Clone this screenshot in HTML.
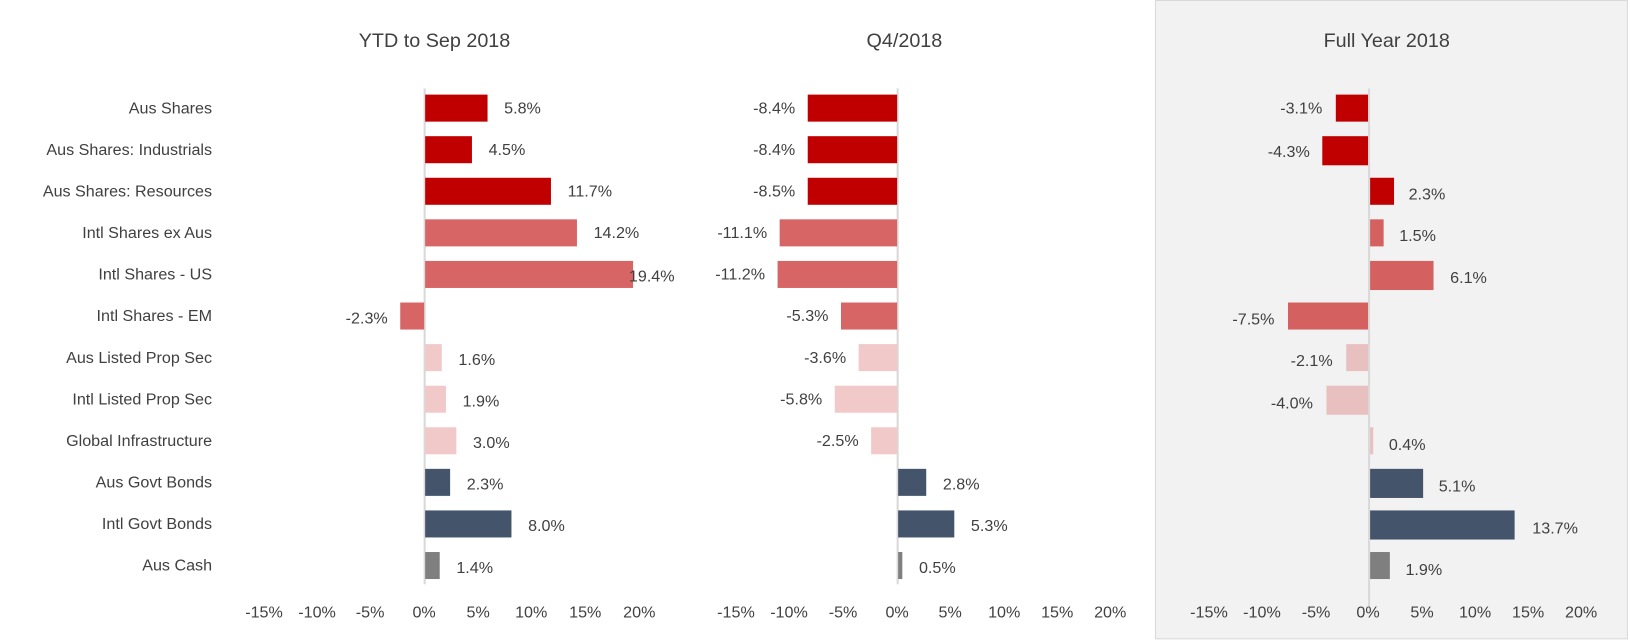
<!DOCTYPE html>
<html><head><meta charset="utf-8"><style>
html,body{margin:0;padding:0;background:#fff;overflow:hidden;}
svg{display:block;font-family:"Liberation Sans",Arial,sans-serif;}
text{fill:#404040;font-size:15.5px;}
.t{font-size:19px;fill:#404040;}
.c{text-anchor:end;}
.m{text-anchor:middle;}
</style></head><body>
<svg width="1630" height="641" viewBox="0 0 1568 616.6" preserveAspectRatio="none" xmlns="http://www.w3.org/2000/svg">
<rect x="1111.5" y="0.5" width="454" height="614" fill="#f2f2f2" stroke="#d9d9d9"/>
<text class="t m" x="418" y="45">YTD to Sep 2018</text>
<text class="t m" x="870" y="45">Q4/2018</text>
<text class="t m" x="1334" y="45">Full Year 2018</text>
<text class="c" x="204" y="109">Aus Shares</text>
<text class="c" x="204" y="149">Aus Shares: Industrials</text>
<text class="c" x="204" y="189">Aus Shares: Resources</text>
<text class="c" x="204" y="229">Intl Shares ex Aus</text>
<text class="c" x="204" y="269">Intl Shares - US</text>
<text class="c" x="204" y="309">Intl Shares - EM</text>
<text class="c" x="204" y="349">Aus Listed Prop Sec</text>
<text class="c" x="204" y="389">Intl Listed Prop Sec</text>
<text class="c" x="204" y="429">Global Infrastructure</text>
<text class="c" x="204" y="469">Aus Govt Bonds</text>
<text class="c" x="204" y="509">Intl Govt Bonds</text>
<text class="c" x="204" y="549">Aus Cash</text>
<line x1="408.5" y1="85" x2="408.5" y2="562" stroke="#d9d9d9" stroke-width="2"/>
<line x1="863.5" y1="85" x2="863.5" y2="562" stroke="#d9d9d9" stroke-width="2"/>
<line x1="1317" y1="85" x2="1317" y2="585" stroke="#d9d9d9" stroke-width="2"/>
<g>
<rect x="409" y="91" width="60" height="26" fill="#c00000"/>
<rect x="409" y="131" width="45" height="26" fill="#c00000"/>
<rect x="409" y="171" width="121" height="26" fill="#c00000"/>
<rect x="409" y="211" width="146" height="26" fill="#d76565"/>
<rect x="409" y="251" width="200" height="26" fill="#d76565"/>
<rect x="385" y="291" width="23" height="26" fill="#d76565"/>
<rect x="409" y="331" width="16" height="26" fill="#f2c9c9"/>
<rect x="409" y="371" width="20" height="26" fill="#f2c9c9"/>
<rect x="409" y="411" width="30" height="26" fill="#f2c9c9"/>
<rect x="409" y="451" width="24" height="26" fill="#44546a"/>
<rect x="409" y="491" width="83" height="26" fill="#44546a"/>
<rect x="409" y="531" width="14" height="26" fill="#7f7f7f"/>
<text x="485" y="109">5.8%</text>
<text x="470" y="149">4.5%</text>
<text x="546" y="189">11.7%</text>
<text x="571" y="229">14.2%</text>
<text x="605" y="271">19.4%</text>
<text class="c" x="373" y="311">-2.3%</text>
<text x="441" y="351">1.6%</text>
<text x="445" y="391">1.9%</text>
<text x="455" y="431">3.0%</text>
<text x="449" y="471">2.3%</text>
<text x="508" y="511">8.0%</text>
<text x="439" y="551">1.4%</text>
</g>
<g>
<rect x="777" y="91" width="86" height="26" fill="#c00000"/>
<rect x="777" y="131" width="86" height="26" fill="#c00000"/>
<rect x="777" y="171" width="86" height="26" fill="#c00000"/>
<rect x="750" y="211" width="113" height="26" fill="#d76565"/>
<rect x="748" y="251" width="115" height="26" fill="#d76565"/>
<rect x="809" y="291" width="54" height="26" fill="#d76565"/>
<rect x="826" y="331" width="37" height="26" fill="#f2c9c9"/>
<rect x="803" y="371" width="60" height="26" fill="#f2c9c9"/>
<rect x="838" y="411" width="25" height="26" fill="#f2c9c9"/>
<rect x="864" y="451" width="27" height="26" fill="#44546a"/>
<rect x="864" y="491" width="54" height="26" fill="#44546a"/>
<rect x="864" y="531" width="4" height="26" fill="#7f7f7f"/>
<text class="c" x="765" y="109">-8.4%</text>
<text class="c" x="765" y="149">-8.4%</text>
<text class="c" x="765" y="189">-8.5%</text>
<text class="c" x="738" y="229">-11.1%</text>
<text class="c" x="736" y="269">-11.2%</text>
<text class="c" x="797" y="309">-5.3%</text>
<text class="c" x="814" y="349">-3.6%</text>
<text class="c" x="791" y="389">-5.8%</text>
<text class="c" x="826" y="429">-2.5%</text>
<text x="907" y="471">2.8%</text>
<text x="934" y="511">5.3%</text>
<text x="884" y="551">0.5%</text>
</g>
<g>
<rect x="1285" y="91" width="31" height="26" fill="#c00000"/>
<rect x="1272" y="131" width="44" height="28" fill="#c00000"/>
<rect x="1318" y="171" width="23" height="26" fill="#c00000"/>
<rect x="1318" y="211" width="13" height="26" fill="#d46060"/>
<rect x="1318" y="251" width="61" height="28" fill="#d46060"/>
<rect x="1239" y="291" width="77" height="26" fill="#d46060"/>
<rect x="1295" y="331" width="21" height="26" fill="#e8c0c0"/>
<rect x="1276" y="371" width="40" height="28" fill="#e8c0c0"/>
<rect x="1318" y="411" width="3" height="26" fill="#e8c0c0"/>
<rect x="1318" y="451" width="51" height="28" fill="#44546a"/>
<rect x="1318" y="491" width="139" height="28" fill="#44546a"/>
<rect x="1318" y="531" width="19" height="26" fill="#7f7f7f"/>
<text class="c" x="1272" y="109">-3.1%</text>
<text class="c" x="1260" y="151">-4.3%</text>
<text x="1355" y="192">2.3%</text>
<text x="1346" y="232">1.5%</text>
<text x="1395" y="272">6.1%</text>
<text class="c" x="1226" y="312">-7.5%</text>
<text class="c" x="1282" y="352">-2.1%</text>
<text class="c" x="1263" y="393">-4.0%</text>
<text x="1336" y="433">0.4%</text>
<text x="1384" y="473">5.1%</text>
<text x="1474" y="513">13.7%</text>
<text x="1352" y="553">1.9%</text>
</g>
<text class="m" x="254" y="594">-15%</text><text class="m" x="305" y="594">-10%</text><text class="m" x="356" y="594">-5%</text><text class="m" x="408" y="594">0%</text><text class="m" x="460" y="594">5%</text><text class="m" x="511" y="594">10%</text><text class="m" x="563" y="594">15%</text><text class="m" x="615" y="594">20%</text>
<text class="m" x="708" y="594">-15%</text><text class="m" x="759" y="594">-10%</text><text class="m" x="811" y="594">-5%</text><text class="m" x="863" y="594">0%</text><text class="m" x="914" y="594">5%</text><text class="m" x="966" y="594">10%</text><text class="m" x="1017" y="594">15%</text><text class="m" x="1068" y="594">20%</text>
<text class="m" x="1163" y="594">-15%</text><text class="m" x="1214" y="594">-10%</text><text class="m" x="1266" y="594">-5%</text><text class="m" x="1316" y="594">0%</text><text class="m" x="1368" y="594">5%</text><text class="m" x="1419" y="594">10%</text><text class="m" x="1470" y="594">15%</text><text class="m" x="1521" y="594">20%</text>
</svg>
</body></html>
